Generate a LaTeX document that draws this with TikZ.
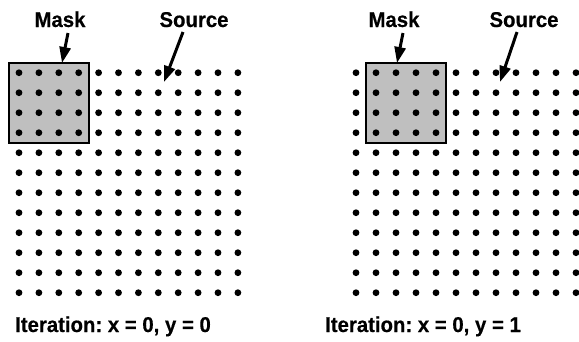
\documentclass[tikz,border=0pt]{standalone}
\usepackage{fontspec}
\setmainfont{Liberation Sans}
\newfontfamily\lblfont[FakeStretch=0.95,FakeBold=0.4]{Liberation Sans Bold}
\usetikzlibrary{arrows.meta}
\definecolor{maskgray}{gray}{0.75}
\frenchspacing
\begin{document}
\begin{tikzpicture}[x=1bp,y=-1bp,
  dot/.style={circle,fill=black,inner sep=0pt,minimum size=6.8bp},
  maskbox/.style={draw=black,fill=maskgray,line width=2.2bp,inner sep=0pt,minimum width=80bp,minimum height=80bp},
  lbl/.style={font=\lblfont\fontsize{21.5}{24}\selectfont,inner sep=0pt,anchor=base},
  pointer/.style={line width=3bp,-{Triangle[length=16bp,width=11bp]}}]
\useasboundingbox (0,0) rectangle (579,341);
% mask boxes
\node[maskbox] (maskL) at (49,103) {};
\node[maskbox] (maskR) at (406,103) {};
% dot grids
\foreach \i in {0,...,11}{
  \foreach \j in {0,...,11}{
    \node[dot] (L-\i-\j) at (19+19.9*\i, 72.7+20*\j) {};
    \node[dot] (R-\i-\j) at (356+20*\i, 72.7+20*\j) {};
  }
}
% labels
\node[lbl] (mL) at (60,27) {Mask};
\node[lbl] (sL) at (194,27) {Source};
\node[lbl] (mR) at (394,27) {Mask};
\node[lbl] (sR) at (524,27) {Source};
\node[lbl] (itL) at (113,332) {Iteration: x = 0, y = 0};
\node[lbl] (itR) at (423,332) {Iteration: x = 0, y = 1};
% arrows
\coordinate (mLs) at (68,33);  \coordinate (mLt) at (62,63);
\coordinate (sLs) at (183,32); \coordinate (sLt) at (164,82);
\coordinate (mRs) at (403,33); \coordinate (mRt) at (397,63);
\coordinate (sRs) at (517,32); \coordinate (sRt) at (500,82);
\draw[pointer] (mLs) -- (mLt);
\draw[pointer] (sLs) -- (sLt);
\draw[pointer] (mRs) -- (mRt);
\draw[pointer] (sRs) -- (sRt);
\end{tikzpicture}
\end{document}
